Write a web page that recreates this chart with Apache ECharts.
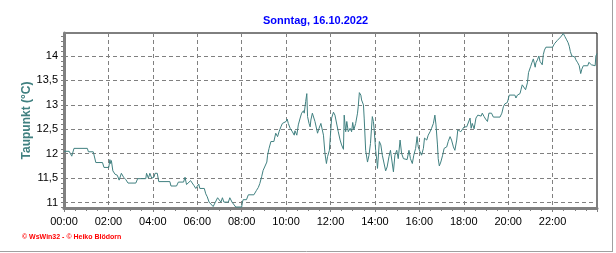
<!DOCTYPE html>
<html>
<head>
<meta charset="utf-8">
<script src="https://cdn.jsdelivr.net/npm/echarts@6/dist/echarts.min.js"></script>
<style>
html,body{margin:0;padding:0;background:#fff;}
#c{width:616px;height:253px;}
</style>
</head>
<body>
<div id="c"></div>
<script>
// time of reading, minutes after midnight
const times = [0,14,21,27,63,66,79,83,86,104,108,121,124,126,128,132,138,144,149,155,161,167,173,194,199,221,223,228,232,237,243,246,252,256,286,289,304,309,323,327,331,336,342,347,351,356,
360,364,367,379,383,387,392,397,403,409,415,420,424,428,432,444,448,454,458,464,480,482,484,493,498,513,520,525,529,534,538,543,548,550,554,559,563,567,572,577,581,586,590,594,
600,603,606,611,617,622,624,629,633,638,642,647,649,653,656,658,662,665,667,671,676,678,683,685,689,694,698,701,705,709,712,717,
720,723,728,732,737,741,746,750,755,757,761,764,768,773,777,780,783,788,793,795,798,802,804,809,811,815,820,824,828,833,836,838,
842,845,847,852,856,860,864,869,873,878,882,886,890,894,899,903,908,912,917,921,927,932,936,941,945,950,954,957,
962,966,971,974,980,984,989,993,998,1002,1005,1009,1011,1014,1018,1023,1027,1034,1038,1043,1047,1052,1056,1061,1064,1068,1072,1077,
1081,1088,1092,1097,1100,1103,1108,1113,1118,1122,1127,1130,1135,1139,1144,1148,1155,1160,1178,1183,1187,1191,1198,
1203,1218,1221,1225,1232,1235,1238,1243,1247,1252,1255,1257,1261,1264,1268,1273,1275,1279,1281,1283,1286,1289,1292,1295,1298,1302,1320,
1325,1328,1333,1337,1342,1346,1349,1353,1358,1362,1365,1368,1372,1373,1376,1380,1383,1388,1392,1396,1399,1403,1415,1418,1421,1425,1430,1435,1437,1440];
// Taupunkt in °C
const values = [12.05,12.05,11.95,12.11,12.11,12.04,12.04,12.00,11.82,11.82,11.72,11.72,11.88,11.80,11.86,11.65,11.58,11.56,11.46,11.60,11.52,11.47,11.40,11.40,11.49,11.49,11.60,11.50,11.60,11.50,11.52,11.60,11.60,11.43,11.43,11.34,11.34,11.42,11.42,11.52,11.37,11.37,11.45,11.45,11.35,11.29,
11.32,11.38,11.29,11.29,11.18,11.12,11.01,11.02,10.92,11.01,11.10,11.10,11.01,11.10,11.01,11.01,11.10,11.01,10.98,10.91,10.91,11.01,11.06,11.06,11.16,11.16,11.25,11.31,11.39,11.53,11.66,11.70,11.83,11.97,12.11,12.25,12.29,12.25,12.42,12.35,12.45,12.55,12.62,12.66,
12.66,12.71,12.62,12.52,12.45,12.38,12.47,12.38,12.59,12.73,12.83,12.88,12.83,13.07,13.23,12.76,12.62,12.55,12.69,12.83,12.83,12.66,12.49,12.42,12.52,12.62,12.64,12.38,12.01,11.80,11.94,12.07,
12.11,12.73,12.85,12.79,12.76,12.45,12.28,12.18,12.09,12.79,12.45,12.66,12.45,12.52,12.45,12.64,12.49,12.62,12.83,12.97,13.25,13.20,13.10,13.00,12.73,12.07,11.83,11.97,12.21,12.76,12.66,12.49,
12.07,11.87,11.70,12.25,12.18,11.97,11.94,11.65,11.73,11.94,12.07,12.07,11.63,11.97,12.07,11.90,12.28,12.01,11.90,11.88,11.88,12.07,11.90,11.80,11.97,12.11,12.35,12.14,
12.04,11.97,12.11,12.32,12.28,12.38,12.45,12.52,12.62,12.79,12.59,12.18,11.90,11.75,11.83,11.97,12.11,12.14,12.25,12.35,12.28,12.14,12.07,12.28,12.49,12.52,12.45,12.42,
12.55,12.55,12.52,12.73,12.52,12.62,12.51,12.73,12.79,12.83,12.77,12.83,12.76,12.71,12.66,12.83,12.83,12.75,12.75,12.83,12.96,13.02,13.05,
13.20,13.20,13.14,13.20,13.23,13.32,13.41,13.38,13.31,13.45,13.66,13.70,13.79,13.86,13.94,13.77,13.86,13.92,13.89,14.00,13.89,13.86,13.82,14.03,14.12,14.18,14.18,
14.25,14.28,14.32,14.35,14.39,14.42,14.46,14.40,14.33,14.27,14.20,14.09,14.00,13.96,14.01,13.98,13.92,13.86,13.80,13.64,13.73,13.80,13.80,13.87,13.89,13.82,13.80,13.80,14.00,14.05];
const yLabelValues = [11, 11.5, 12, 12.5, 13, 13.5, 14];
const yMinorValues = [10.9,11,11.1,11.2,11.3,11.4,11.5,11.6,11.7,11.8,11.9,12,12.1,12.2,12.3,12.4,12.5,12.6,12.7,12.8,12.9,13,13.1,13.2,13.3,13.4,13.5,13.6,13.7,13.8,13.9,14,14.1,14.2,14.3,14.4];
const xLabelHours = ['00:00','02:00','04:00','06:00','08:00','10:00','12:00','14:00','16:00','18:00','20:00','22:00'];
const titleText = 'Sonntag, 16.10.2022';
const yName = 'Taupunkt (°C)';
const footerText = '© WsWin32 - © Heiko Blödorn';

const chart = echarts.init(document.getElementById('c'), null, {renderer: 'canvas'});
const font = 'Liberation Sans';
const gridCol = '#808080';
const yMin = 10.89, yMax = 14.47;
chart.setOption({
  animation: false,
  backgroundColor: '#fff',
  title: {
    text: titleText, left: 258, top: 10,
    textStyle: {color: '#0000ff', fontFamily: font, fontSize: 11, fontWeight: 'bold'}
  },
  grid: {left: 64, top: 33, width: 533, height: 175, show: true, borderColor: '#000', borderWidth: 1, backgroundColor: 'transparent'},
  xAxis: {
    type: 'value', min: 0, max: 1440, interval: 120,
    axisLine: {show: true, onZero: false, lineStyle: {color: gridCol, width: 3}},
    axisTick: {show: true, length: 4, lineStyle: {color: gridCol, width: 1}},
    minorTick: {show: true, splitNumber: 4, length: 3, lineStyle: {color: gridCol, width: 1}},
    axisLabel: {
      margin: 8, color: '#000', fontFamily: font, fontSize: 11, showMaxLabel: false,
      formatter: v => xLabelHours[Math.round(v / 120)] || ''
    },
    splitLine: {show: true, lineStyle: {color: gridCol, type: [4, 3], width: 1}}
  },
  yAxis: [{
    type: 'value', min: yMin, max: yMax, position: 'left',
    name: yName, nameLocation: 'middle', nameGap: 31, nameRotate: 90, nameMoveOverlap: false,
    nameTextStyle: {color: '#408080', fontFamily: font, fontSize: 12, fontWeight: 'bold'},
    axisLine: {show: true, lineStyle: {color: gridCol, width: 3}},
    axisTick: {show: true, length: 3, customValues: yMinorValues, lineStyle: {color: gridCol, width: 1}},
    axisLabel: {
      customValues: yLabelValues, margin: 6, color: '#000', fontFamily: font, fontSize: 11,
      formatter: v => String(v).replace('.', ',')
    },
    splitLine: {show: false}
  }, {
    type: 'value', min: yMin, max: yMax, position: 'left',
    axisLine: {show: false},
    axisTick: {show: false, customValues: yLabelValues},
    axisLabel: {show: false, customValues: yLabelValues},
    splitLine: {show: true, lineStyle: {color: gridCol, type: [4, 3], width: 1}}
  }],
  graphic: [
    {type: 'text', left: 22, top: 234, style: {text: footerText, fill: '#ff0000', font: 'bold 7px "Liberation Sans"'}},
    {type: 'line', shape: {x1: 612.5, y1: 0, x2: 612.5, y2: 252}, style: {stroke: '#a0a0a0', lineWidth: 1}},
    {type: 'line', shape: {x1: 0, y1: 251.5, x2: 613, y2: 251.5}, style: {stroke: '#a0a0a0', lineWidth: 1}}
  ],
  series: [{
    type: 'line', yAxisIndex: 0, showSymbol: false, smooth: false,
    lineStyle: {color: '#408080', width: 1},
    data: times.map((t, i) => [t, values[i]])
  }]
});
</script>
</body>
</html>
